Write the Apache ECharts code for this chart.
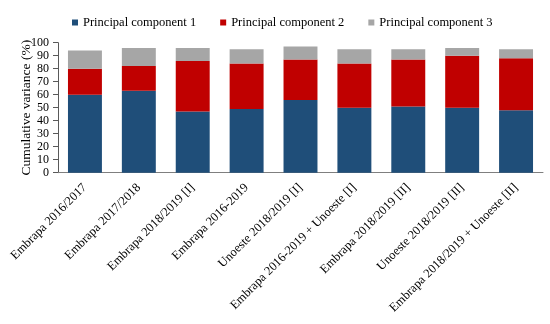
<!DOCTYPE html>
<html><head><meta charset="utf-8">
<script src="https://cdn.jsdelivr.net/npm/echarts@6/dist/echarts.min.js"></script>
<style>html,body{margin:0;padding:0;background:#fff}#c{width:550px;height:324px}</style>
</head><body><div id="c"></div>
<script>
const categories = ["Embrapa 2016/2017","Embrapa 2017/2018","Embrapa 2018/2019 [I]","Embrapa 2016-2019","Unoeste 2018/2019 [I]","Embrapa 2016-2019 + Unoeste [I]","Embrapa 2018/2019 [II]","Unoeste 2018/2019 [II]","Embrapa 2018/2019 + Unoeste [II]"];
const pc1 = [60,63,47,49,56,50,51,50,48];
const pc2 = [20,19,39,35,31,34,36,40,40];
const pc3 = [14,14,10,11,10,11,8,6,7];
const seriesNames = ["Principal component 1","Principal component 2","Principal component 3"];
const yTicks = [0,10,20,30,40,50,60,70,80,90,100];
const font = "'Liberation Serif','Times New Roman',serif";
const chart = echarts.init(document.getElementById('c'));
const colors = ['#1F4E79','#C00000','#A6A6A6'];
chart.setOption({
  animation:false,
  textStyle:{fontFamily:font},
  legend:{top:11,left:67,itemWidth:6,itemHeight:6,itemGap:24,icon:'rect',
    textStyle:{fontFamily:font,fontSize:12.5,color:'#000'},data:seriesNames},
  grid:{left:58,right:7,top:42.7,height:130,containLabel:false},
  xAxis:{type:'category',data:categories,
    axisLine:{lineStyle:{color:'#7f7f7f'}},axisTick:{show:false},
    axisLabel:{rotate:45,interval:0,fontFamily:font,fontSize:12.5,color:'#000',margin:13}},
  yAxis:{type:'value',min:yTicks[0],max:yTicks[yTicks.length-1],interval:10,
    name:'Cumulative variance (%)',nameLocation:'middle',nameGap:25,nameRotate:90,nameMoveOverlap:false,
    nameTextStyle:{fontFamily:font,fontSize:13.5,color:'#000'},
    axisLine:{show:true,lineStyle:{color:'#595959'}},axisTick:{show:true,length:5,lineStyle:{color:'#595959'}},
    splitLine:{show:false},
    axisLabel:{fontFamily:font,fontSize:12,color:'#000',margin:9}},
  series:[pc1,pc2,pc3].map((d,i)=>({name:seriesNames[i],type:'bar',stack:'a',data:d,
    barCategoryGap:'37%',itemStyle:{color:colors[i]}}))
});
</script></body></html>
